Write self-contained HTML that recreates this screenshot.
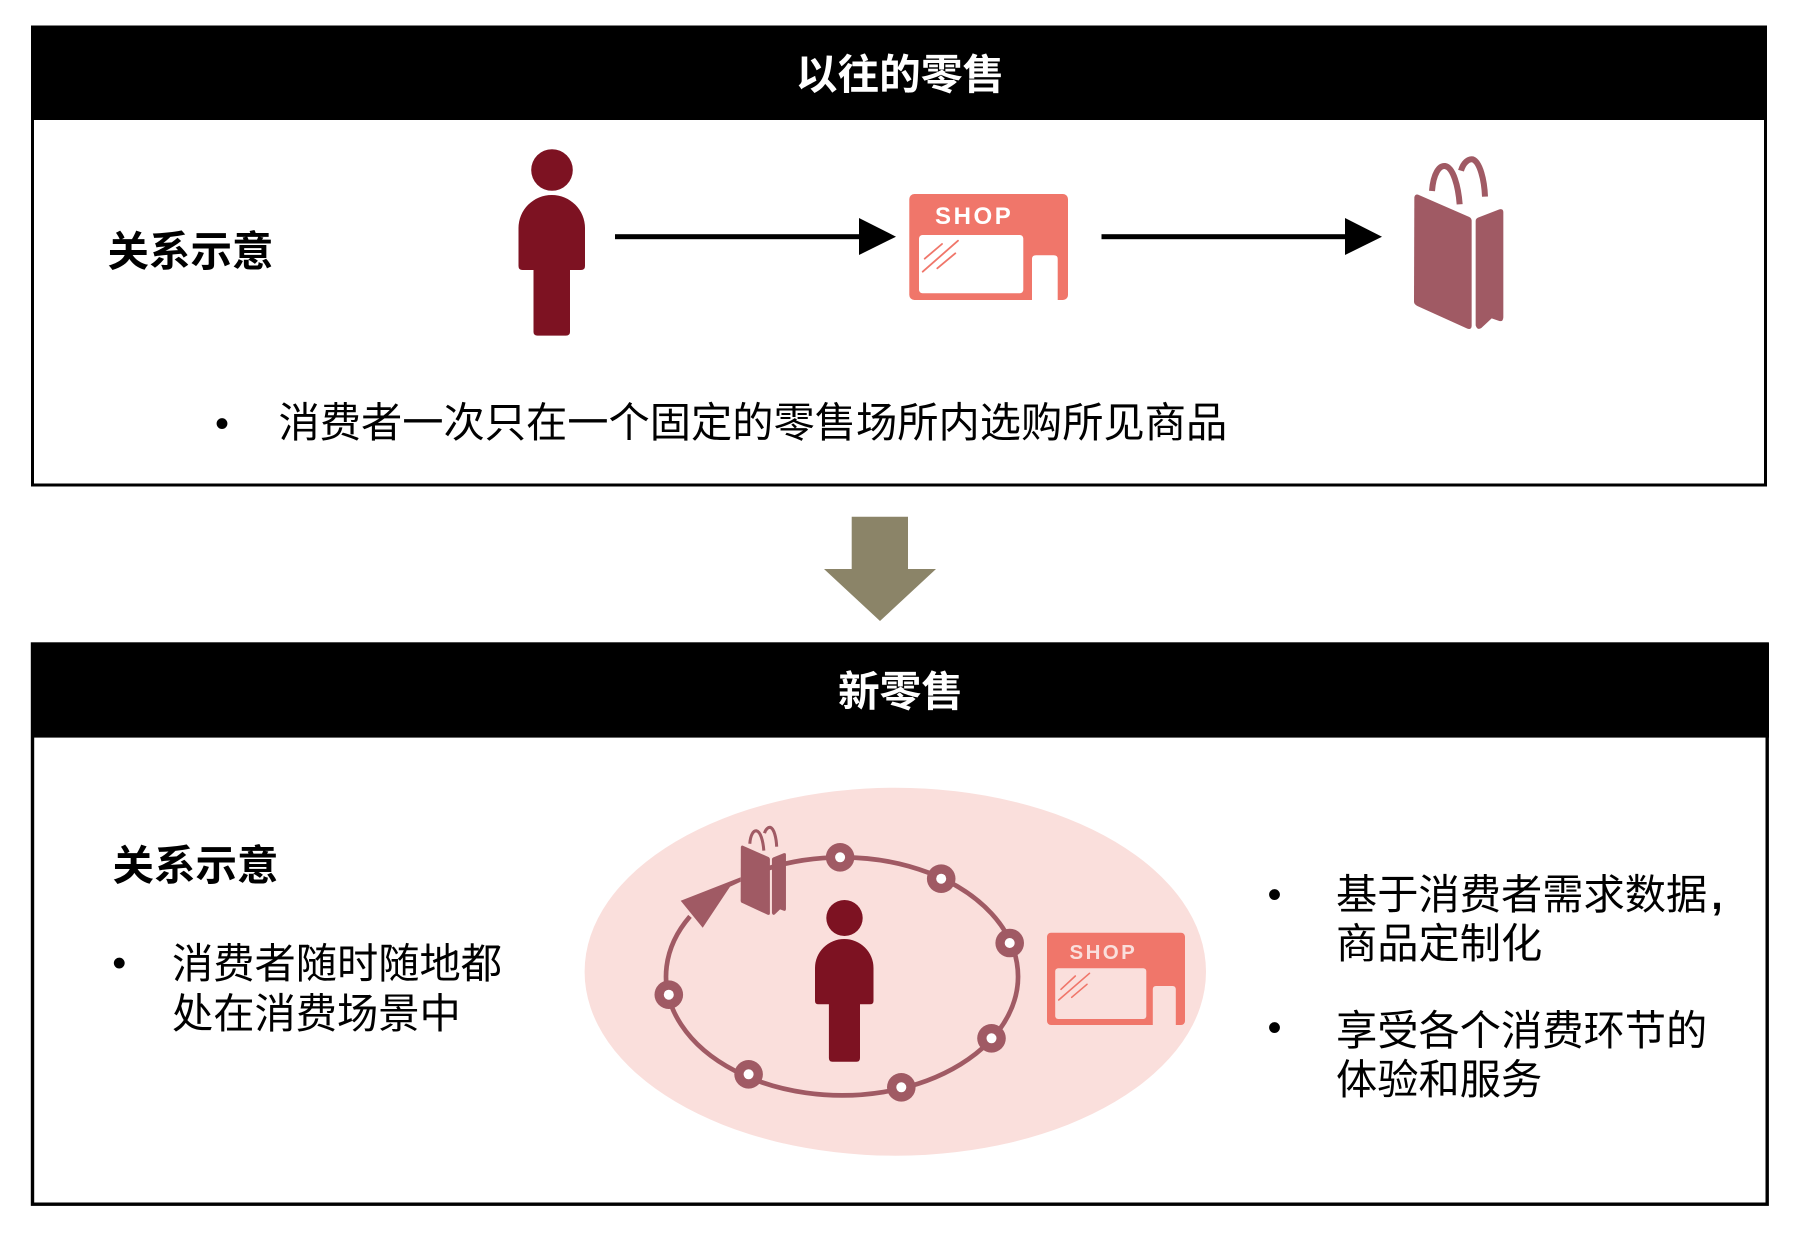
<!DOCTYPE html>
<html><head><meta charset="utf-8">
<style>
html,body{margin:0;padding:0;background:#fff}
svg{display:block}
text{font-family:"Liberation Sans","Noto Sans CJK SC",sans-serif;fill:#000}
.r{font-size:41.25px}
.b{font-size:41.5px;font-weight:700}
.h{font-size:41.7px;font-weight:700;fill:#fff;text-anchor:middle}
</style></head><body>
<svg width="1806" height="1234" viewBox="0 0 1806 1234" xmlns="http://www.w3.org/2000/svg">
<defs>
<g id="bag">
<path fill="#A05A64" d="M73,172Q75,162 84,164L238,231Q245,235 245,243L245,558Q244,570 232,566L82,498Q72,493 72,485Z"/>
<path fill="#A05A64" d="M257,243Q257,236 264,233L328,208Q340,205 340,217L340,532Q339,546 328,543L305,535L274,564Q262,572 257,556Z"/>
<path fill="none" stroke="#A05A64" stroke-width="18" d="M126,153C130,100 148,76 165,78C190,82 205,140 209,193"/>
<path fill="none" stroke="#A05A64" stroke-width="18" d="M213,92C220,68 235,56 248,58C270,66 283,120 285,170"/>
</g>
</defs>

<!-- top panel -->
<rect x="32.5" y="27" width="1733" height="458" fill="#fff" stroke="#000" stroke-width="3"/>
<rect x="31" y="26" width="1736" height="94" fill="#000"/>
<text class="h" x="900" y="89">以往的零售</text>
<text class="b" x="107.5" y="266">关系示意</text>

<!-- person 1 -->
<ellipse cx="552" cy="170" rx="20.8" ry="20.8" fill="#7D1222"/>
<path fill="#7D1222" d="M518.5,228A33.25,33 0 0 1 585,228L585,266Q585,270 581,270L570,270L570,332Q570,335.6 566,335.6L537.5,335.6Q533.5,335.6 533.5,332L533.5,270L522.5,270Q518.5,270 518.5,266Z"/>

<!-- arrows -->
<rect x="615" y="234.2" width="246" height="5" fill="#000"/>
<polygon points="859,218 896,236.7 859,255" fill="#000"/>
<rect x="1101.5" y="234.2" width="245.5" height="5" fill="#000"/>
<polygon points="1345,218 1382,236.7 1345,255" fill="#000"/>

<!-- shop 1 -->
<rect x="909.3" y="194" width="158.7" height="106" rx="5" fill="#F0766A"/>
<rect x="919" y="235" width="104.3" height="58.3" rx="3.5" fill="#fff"/>
<path d="M1032,300L1032,259Q1032,255.3 1036,255.3L1053.7,255.3Q1057.7,255.3 1057.7,259L1057.7,300Z" fill="#fff"/>
<text x="935" y="224" style="font-size:24px;font-weight:700;letter-spacing:2.6px;fill:#fff;font-family:'Liberation Sans',sans-serif">SHOP</text>
<g stroke="#F0766A" stroke-width="1.8" stroke-linecap="round">
<line x1="924.7" y1="258.7" x2="942" y2="244"/>
<line x1="922.7" y1="271.7" x2="958" y2="240.7"/>
<line x1="937.3" y1="268.3" x2="955.3" y2="253.3"/>
</g>

<!-- bag 1 -->
<use href="#bag" transform="translate(1390,140) scale(.33333)"/>

<text class="r" x="215" y="437" style="font-size:40px">•</text>
<text class="r" x="278.5" y="437">消费者一次只在一个固定的零售场所内选购所见商品</text>

<!-- big arrow -->
<polygon points="851.7,516.7 908,516.7 908,569 936,569 880,621 824,569 851.7,569" fill="#8B8468"/>

<!-- bottom panel -->
<rect x="32.5" y="644" width="1734.7" height="560.2" fill="#fff" stroke="#000" stroke-width="3.4"/>
<rect x="31" y="643.3" width="1738" height="94.3" fill="#000"/>
<text class="h" x="900.5" y="706">新零售</text>

<text class="b" x="112.5" y="880">关系示意</text>
<text class="r" x="112.3" y="976.5" style="font-size:40px">•</text>
<text class="r" x="172" y="978">消费者随时随地都</text>
<text class="r" x="172" y="1028">处在消费场景中</text>

<!-- ellipse -->
<ellipse cx="895.3" cy="971.7" rx="310.7" ry="184" fill="#FADFDC"/>

<!-- ring -->
<path d="M768,868.4A176,119 0 1 1 690,916.4" fill="none" stroke="#A05A64" stroke-width="4.7"/>
<polygon points="680.7,900.7 740.7,877.3 740.7,881.7 730,886.7 702.7,927.7" fill="#A05A64"/>
<use href="#bag" transform="translate(728.5,817.4) scale(.169,.172)"/>

<g fill="#A05A64">
<circle cx="840.1" cy="857.3" r="14.3"/><circle cx="941.2" cy="878.7" r="14.3"/><circle cx="1009.7" cy="943" r="14.3"/><circle cx="991.5" cy="1038.3" r="14.3"/><circle cx="901.3" cy="1087.3" r="14.3"/><circle cx="748.6" cy="1074.3" r="14.3"/><circle cx="668.8" cy="994.7" r="14.3"/>
</g>
<g fill="#fff">
<circle cx="840.1" cy="857.3" r="5"/><circle cx="941.2" cy="878.7" r="5"/><circle cx="1009.7" cy="943" r="5"/><circle cx="991.5" cy="1038.3" r="5"/><circle cx="901.3" cy="1087.3" r="5"/><circle cx="748.6" cy="1074.3" r="5"/><circle cx="668.8" cy="994.7" r="5"/>
</g>

<!-- person 2 -->
<ellipse cx="844.5" cy="918" rx="18.2" ry="18" fill="#7D1222"/>
<path fill="#7D1222" d="M815,968A29.25,29 0 0 1 873.5,968L873.5,1001Q873.5,1004.3 870,1004.3L860,1004.3L860,1058Q860,1061.7 856.5,1061.7L832.4,1061.7Q828.9,1061.7 828.9,1058L828.9,1004.3L818.5,1004.3Q815,1004.3 815,1001Z"/>

<!-- shop 2 -->
<rect x="1047" y="932.7" width="138" height="92.3" rx="4" fill="#F0766A"/>
<rect x="1055.2" y="968.3" width="91.1" height="50.7" rx="3" fill="#FADFDC"/>
<path d="M1152.8,1025L1152.8,989.5Q1152.8,986 1156,986L1172.5,986Q1175.8,986 1175.8,989.5L1175.8,1025Z" fill="#FADFDC"/>
<text x="1069.5" y="959" style="font-size:20.5px;font-weight:700;letter-spacing:2.4px;fill:#FADFDC;font-family:'Liberation Sans',sans-serif">SHOP</text>
<g stroke="#F0766A" stroke-width="1.6" stroke-linecap="round">
<line x1="1061" y1="989.3" x2="1075.3" y2="976"/>
<line x1="1058.7" y1="1000" x2="1089.5" y2="973.3"/>
<line x1="1071.7" y1="997.3" x2="1087" y2="984.3"/>
</g>

<!-- right text -->
<text class="r" x="1267.5" y="908" style="font-size:40px">•</text>
<text class="r" x="1336" y="909">基于消费者需求数据<tspan dx="4" style="font-weight:700">,</tspan></text>
<text class="r" x="1336" y="958">商品定制化</text>
<text class="r" x="1267.5" y="1041" style="font-size:40px">•</text>
<text class="r" x="1336" y="1045">享受各个消费环节的</text>
<text class="r" x="1336" y="1094">体验和服务</text>
</svg>
</body></html>
